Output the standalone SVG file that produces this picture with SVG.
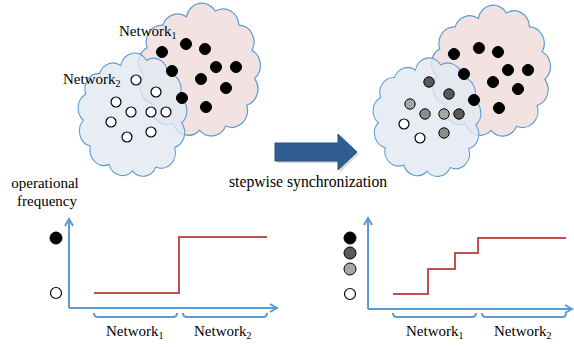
<svg xmlns="http://www.w3.org/2000/svg" width="574" height="347" viewBox="0 0 574 347">
<defs>
<style>
text{font-family:"Liberation Serif","Times New Roman","DejaVu Serif",serif;font-size:15px;fill:#000}
.cl{stroke:#5b9bd5;stroke-width:0.9}
.pink{fill:#f2e3e2}
.blue{fill:#e2e9f2;fill-opacity:0.8}
.blk{fill:#000;stroke:#000;stroke-width:1}
.wht{fill:#fff;stroke:#000;stroke-width:1.2}
.dg{fill:#595959;stroke:#000;stroke-width:1}
.mg{fill:#8c8c8c;stroke:#000;stroke-width:1}
.lg{fill:#a6a6a6;stroke:#000;stroke-width:1}
.axis{fill:none;stroke:#5b9bd5;stroke-width:2}
.step{fill:none;stroke:#c0504d;stroke-width:2}
.brace{fill:none;stroke:#5b9bd5;stroke-width:2}
.sub{font-size:10px}
</style>
<symbol id="cloud" viewBox="0 0 100 100" preserveAspectRatio="none">
<path class="cl" d="M40,12 A12,12 0 0 1 62,8 A12,12 0 0 1 80,18 A12,12 0 0 1 90,36 A12,12 0 0 1 92,56 A12,12 0 0 1 86,75 A12,12 0 0 1 70,90 A12,12 0 0 1 50,93 A12,12 0 0 1 30,88 A12,12 0 0 1 14,74 A12,12 0 0 1 8,54 A12,12 0 0 1 10,34 A12,12 0 0 1 22,18 A12,12 0 0 1 40,12 Z"/>
</symbol>
<marker id="ah" viewBox="0 0 10 10" refX="8" refY="5" markerWidth="5" markerHeight="5" orient="auto" markerUnits="strokeWidth">
<path d="M1,1 L8,5 L1,9" fill="none" stroke="#5b9bd5" stroke-width="2"/>
</marker>
</defs>

<g id="left-network1-cloud">
<use href="#cloud" class="pink" x="134" y="0" width="131" height="140"/>
</g>
<g id="left-network2-cloud">
<use href="#cloud" class="blue" x="74" y="50" width="117" height="130"/>
</g>

<g id="left-network1">
<circle class="blk" cx="162" cy="52" r="5.5"/>
<circle class="blk" cx="186" cy="44" r="5.5"/>
<circle class="blk" cx="205" cy="49" r="5.5"/>
<circle class="blk" cx="216" cy="67" r="5.5"/>
<circle class="blk" cx="236" cy="67" r="5.5"/>
<circle class="blk" cx="172" cy="71" r="5.5"/>
<circle class="blk" cx="201" cy="79" r="5.5"/>
<circle class="blk" cx="226" cy="88" r="5.5"/>
<circle class="blk" cx="182" cy="98" r="5.5"/>
<circle class="blk" cx="206" cy="107" r="5.5"/>
<text x="119" y="36">Network<tspan class="sub" dy="3">1</tspan></text>
</g>

<g id="left-network2">
<circle class="wht" cx="136" cy="80" r="5"/>
<circle class="wht" cx="156" cy="92" r="5"/>
<circle class="wht" cx="116" cy="102" r="5"/>
<circle class="wht" cx="131" cy="112" r="5"/>
<circle class="wht" cx="151" cy="112" r="5"/>
<circle class="wht" cx="166" cy="112" r="5"/>
<circle class="wht" cx="111" cy="122" r="5"/>
<circle class="wht" cx="151" cy="132" r="5"/>
<circle class="wht" cx="127" cy="137" r="5"/>
<text x="63" y="84">Network<tspan class="sub" dy="3">2</tspan></text>
</g>

<g id="right-network1-cloud">
<use href="#cloud" class="pink" x="427" y="2" width="128" height="138"/>
</g>
<g id="right-network2-cloud">
<use href="#cloud" class="blue" x="369" y="55" width="116" height="125"/>
</g>

<g id="right-network1">
<circle class="blk" cx="454" cy="54" r="5.5"/>
<circle class="blk" cx="479" cy="48" r="5.5"/>
<circle class="blk" cx="498" cy="52" r="5.5"/>
<circle class="blk" cx="508" cy="70" r="5.5"/>
<circle class="blk" cx="528" cy="70" r="5.5"/>
<circle class="blk" cx="464" cy="74" r="5.5"/>
<circle class="blk" cx="493" cy="82" r="5.5"/>
<circle class="blk" cx="518" cy="89" r="5.5"/>
<circle class="blk" cx="474" cy="100" r="5.5"/>
<circle class="blk" cx="499" cy="108" r="5.5"/>
</g>

<g id="right-network2">
<circle class="dg" cx="429" cy="82" r="5.2"/>
<circle class="dg" cx="449" cy="94" r="5.2"/>
<circle class="lg" cx="410" cy="104" r="5.2"/>
<circle class="mg" cx="425" cy="114" r="5.2"/>
<circle class="lg" cx="444" cy="114" r="5.2"/>
<circle class="dg" cx="459" cy="114" r="5.2"/>
<circle class="wht" cx="404" cy="124" r="5"/>
<circle class="mg" cx="444" cy="133" r="5.2"/>
<circle class="wht" cx="420" cy="138" r="5"/>
</g>

<g id="sync-arrow">
<polygon points="277,145 340,145 340,136 359,154 340,172 340,163 277,163" fill="#000" fill-opacity="0.15"/>
<polygon points="275,143 338,143 338,134 357,152 338,170 338,161 275,161" fill="#2f5d94" stroke="#29527f" stroke-width="1"/>
<text x="229" y="187" style="font-size:15.7px">stepwise synchronization</text>
</g>

<g id="y-label">
<text x="45" y="188" text-anchor="middle">operational</text>
<text x="47" y="206" text-anchor="middle">frequency</text>
</g>

<g id="left-chart">
<circle class="blk" cx="56" cy="238" r="6"/>
<circle class="wht" cx="56" cy="293" r="5.5"/>
<path class="step" d="M94,293 H179 V237 H267"/>
<path class="brace" d="M94,313 Q94,317 98,317 H173 Q177,317 177,313"/>
<path class="brace" d="M183,313 Q183,317 187,317 H263 Q267,317 267,313"/>
<text x="106" y="336">Network<tspan class="sub" dy="3">1</tspan></text>
<text x="194" y="336">Network<tspan class="sub" dy="3">2</tspan></text>
</g>

<g id="right-chart">
<circle class="blk" cx="350" cy="238" r="6"/>
<circle class="dg" cx="350" cy="253" r="6"/>
<circle class="lg" cx="350" cy="269" r="6"/>
<circle class="wht" cx="350" cy="294" r="5.5"/>
<path class="step" d="M393,294 H428 V269 H455 V253 H478 V238 H566"/>
<path class="brace" d="M393,313 Q393,317 397,317 H472 Q476,317 476,313"/>
<path class="brace" d="M482,313 Q482,317 486,317 H562 Q566,317 566,313"/>
<text x="406" y="336">Network<tspan class="sub" dy="3">1</tspan></text>
<text x="494" y="336">Network<tspan class="sub" dy="3">2</tspan></text>
</g>

<g id="connectors">
<path class="axis" d="M69,308 V219" marker-end="url(#ah)"/>
<path class="axis" d="M69,308 H277" marker-end="url(#ah)"/>
<path class="axis" d="M368,309 V218" marker-end="url(#ah)"/>
<path class="axis" d="M368,309 H572" marker-end="url(#ah)"/>
</g>
</svg>
